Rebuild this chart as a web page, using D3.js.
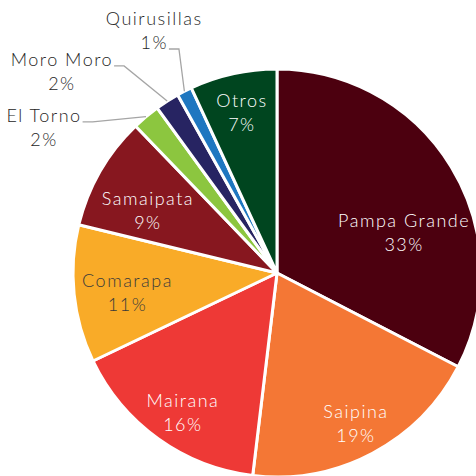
<!DOCTYPE html>
<html>
<head>
<meta charset="utf-8">
<script src="https://cdn.jsdelivr.net/npm/d3@7"></script>
<style>
  html, body { margin: 0; padding: 0; background: #ffffff; }
  svg { display: block; }
  text { font-family: "Lato", "Open Sans", sans-serif; font-weight: 300; }
</style>
</head>
<body>
<svg id="chart" width="476" height="476"></svg>
<script>
// Production share by municipality (percent)
const categories = ["Pampa Grande", "Saipina", "Mairana", "Comarapa", "Samaipata",
                    "El Torno", "Moro Moro", "Quirusillas", "Otros"];
const shares = [32.6, 19.3, 16.0, 10.9, 9.0, 2.2, 1.9, 1.2, 6.9];
const sliceColors = ["#4c000f", "#f47735", "#ee3936", "#f9ab28", "#87171f",
                     "#8cc63f", "#272462", "#1f77c0", "#00451f"];

// Label placement: radius as a fraction of the pie radius, angular nudge in degrees,
// text colour, and for outside labels which text line the leader attaches to.
const labelLayout = {
  "Pampa Grande": { r: 0.652, shift: 14.2, fill: "#ffffff" },
  "Saipina":      { r: 0.838, shift: 0.4,  fill: "#ffffff" },
  "Mairana":      { r: 0.833, shift: -2.0, fill: "#ffffff" },
  "Comarapa":     { r: 0.740, shift: -2.0, fill: "#3a3a3a" },
  "Samaipata":    { r: 0.700, shift: -4.6, fill: "#ffffff" },
  "El Torno":     { r: 1.343, shift: -18.3, fill: "#262626", leader: 0 },
  "Moro Moro":    { r: 1.440, shift: -14.5, fill: "#262626", leader: 0 },
  "Quirusillas":  { r: 1.326, shift: 0.0,  fill: "#262626", leader: 1 },
  "Otros":        { r: 0.800, shift: 0.0,  fill: "#ffffff" }
};

const cx = 277, cy = 273, R = 204;
const fontSize = 18, lineGap = 24;

const rows = categories.map((name, i) => ({ name, value: shares[i], color: sliceColors[i] }));

const pie = d3.pie().value(d => d.value).sort(null);
const arc = d3.arc().innerRadius(0).outerRadius(R);
const arcs = pie(rows);

const svg = d3.select("#chart");
const g = svg.append("g").attr("transform", `translate(${cx},${cy})`);

g.selectAll("path.slice")
  .data(arcs)
  .join("path")
  .attr("class", "slice")
  .attr("d", arc)
  .attr("fill", d => d.data.color)
  .attr("stroke", "#ffffff")
  .attr("stroke-width", 3)
  .attr("stroke-linejoin", "round");

const polar = (angle, r) => [r * Math.sin(angle), -r * Math.cos(angle)];

g.selectAll("g.label")
  .data(arcs)
  .join("g")
  .attr("class", "label")
  .each(function (d) {
    const lay = labelLayout[d.data.name];
    const mid = (d.startAngle + d.endAngle) / 2;
    const [lx, ly] = polar(mid + lay.shift * Math.PI / 180, lay.r * R);
    const lines = [d.data.name, Math.round(d.data.value) + "%"];
    const sel = d3.select(this);
    const texts = sel.selectAll("text")
      .data(lines)
      .join("text")
      .attr("x", lx)
      .attr("y", (t, k) => ly - 7 + k * lineGap)
      .attr("text-anchor", "middle")
      .attr("font-size", fontSize)
      .attr("letter-spacing", "1.5px")
      .attr("fill", lay.fill)
      .text(t => t);

    if (lay.leader !== undefined) {
      const node = texts.nodes()[lay.leader];
      const w = node.getComputedTextLength();
      const x0 = lx + w / 2 + 1;
      const y0 = ly - 7 + lay.leader * lineGap;
      const [ex, ey] = polar(mid, R);
      sel.insert("path", "text")
        .attr("d", d3.line()([[x0, y0], [x0 + 10, y0], [ex, ey]]))
        .attr("fill", "none")
        .attr("stroke", "#a5a5a5")
        .attr("stroke-width", 1.3);
    }
  });
</script>
</body>
</html>
